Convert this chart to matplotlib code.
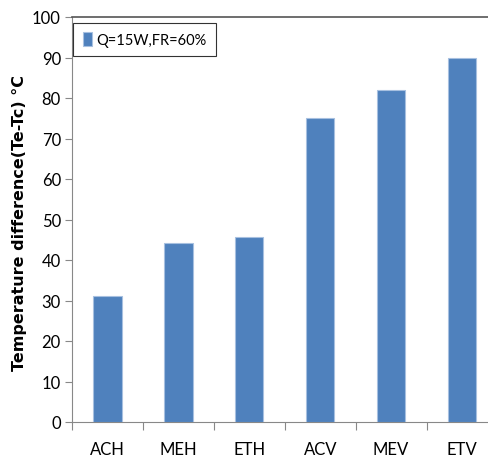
import matplotlib.pyplot as plt
import numpy as np

categories = ["ACH", "MEH", "ETH", "ACV", "MEV", "ETV"]
temp_diff = [31.1, 44.2, 45.6, 75.0, 82.0, 90.0]
series_label = "Q=15W,FR=60%"
y_ticks = list(range(0, 101, 10))

plt.rcParams['font.family'] = ['Lato', 'DejaVu Sans']

fig = plt.figure(figsize=(4.89, 4.64), dpi=100)
# plot area runs a bit past the right edge, like the original crop
ax = fig.add_axes([72 / 489, 41 / 464, 425.5 / 489, 405 / 464])

x = np.arange(len(categories))
ax.bar(x, temp_diff, width=0.4, color="#4F81BD", edgecolor="#A7C0E0",
       linewidth=0.8, label=series_label, zorder=3)

ax.set_xlim(-0.5, len(categories) - 0.5)
ax.set_ylim(0, 100)
ax.set_yticks(y_ticks)
ax.tick_params(axis='y', labelsize=12, length=5, width=0.8, color="#888888", pad=3)

ax.set_xticks(x)
ax.set_xticklabels(categories)
ax.tick_params(axis='x', which='major', length=0, labelsize=12, pad=14)
ax.set_xticks(np.arange(len(categories)) - 0.5, minor=True)
ax.tick_params(axis='x', which='minor', length=6, width=0.8, color="#888888")

for side in ["left", "bottom"]:
    ax.spines[side].set_color("#888888")
    ax.spines[side].set_linewidth(0.8)
ax.spines["top"].set_color("#555555")
ax.spines["top"].set_linewidth(1.2)
ax.spines["right"].set_visible(False)

# y label placed in figure coords so it sits where the original has it
fig.text(20 / 489, (464 - 223) / 464, "Temperature difference(Te-Tc) °C",
         rotation=90, ha="center", va="center", fontsize=11.5,
         fontweight="bold", fontfamily="DejaVu Sans")

leg = ax.legend(loc="upper left", bbox_to_anchor=(0.0, 0.99), fontsize=10.5,
                frameon=True, fancybox=False, handlelength=0.6, handleheight=1.1,
                handletextpad=0.3, borderpad=0.65, borderaxespad=0.1)
leg.get_frame().set_edgecolor("#000000")
leg.get_frame().set_linewidth(0.8)

fig.savefig("out.png", dpi=100)
